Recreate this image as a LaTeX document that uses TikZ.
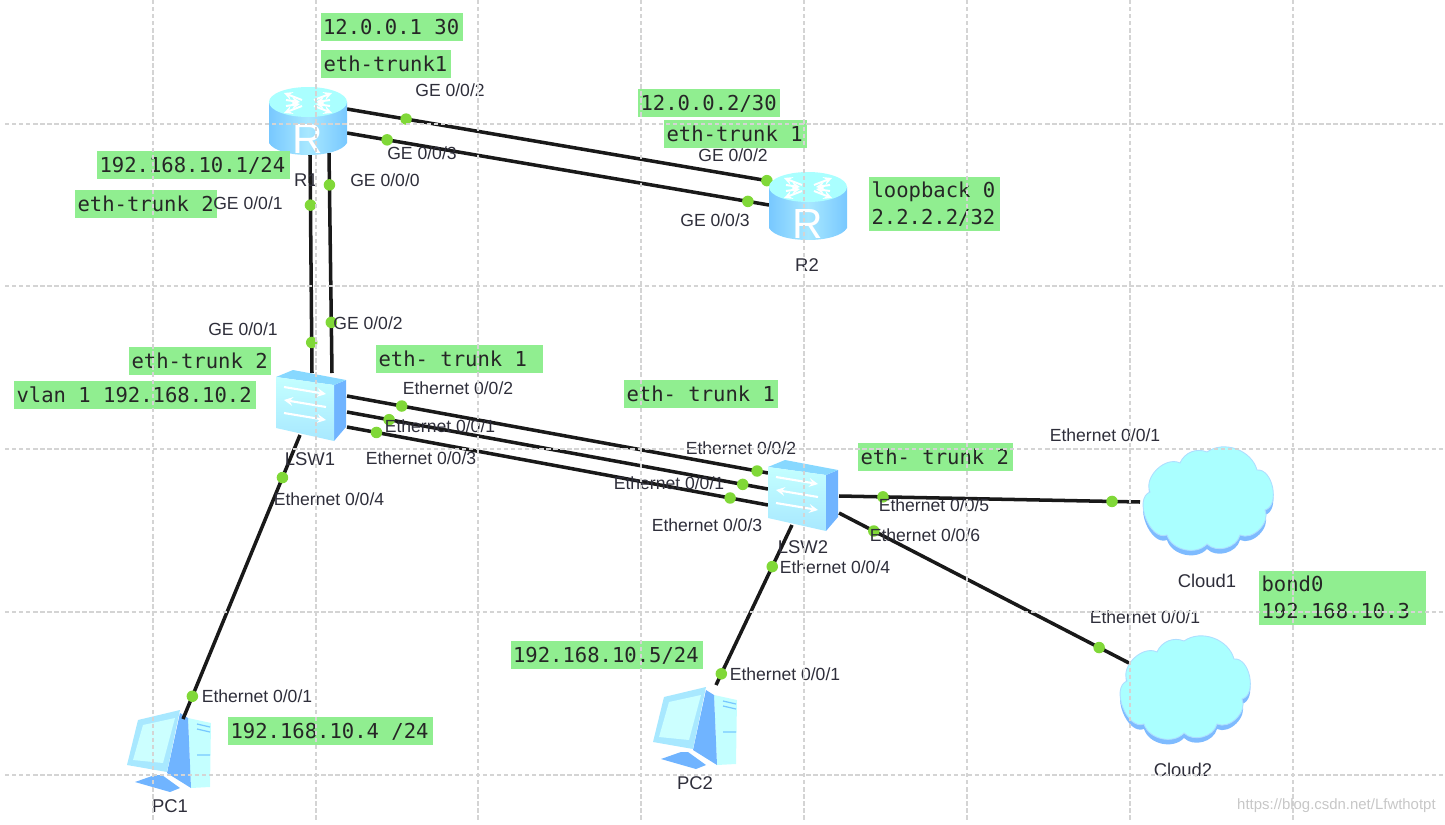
\documentclass[tikz,border=0pt]{standalone}
\usepackage{fontspec}
\setmainfont{Liberation Sans}
\newfontfamily\tagfont{DejaVu Sans Mono}
\usetikzlibrary{calc}
\usetikzlibrary{positioning}
\definecolor{taggreen}{HTML}{90EE90}
\definecolor{portdot}{HTML}{80D838}
\definecolor{gridgray}{HTML}{D4D4D4}
\definecolor{inktext}{HTML}{2E2E3A}
\definecolor{iconlight}{HTML}{AAFFFF}
\definecolor{iconmid}{HTML}{A8E8FF}
\definecolor{iconblue}{HTML}{70B4FF}
\definecolor{iconside}{HTML}{78C8FF}
\tikzset{
    link/.style={line width=2pt,draw=black!90},
    linkdot/.style={circle,fill=portdot,inner sep=0pt,minimum size=0.23cm},
    portlabel/.style={font=\fontsize{10}{12}\selectfont,text=inktext,inner sep=0pt},
    devlabel/.style={font=\fontsize{10.5}{12}\selectfont,text=inktext,inner sep=0pt},
    tagbox/.style={fill=taggreen,text=black!85,font=\tagfont\fontsize{11.7}{15.3}\selectfont,inner xsep=0.05cm,inner ysep=0pt,
        minimum height=0.56cm,align=flush left,text width=#1,text height=9.5pt,text depth=1pt},
    tagtwo/.style={fill=taggreen,text=black!85,font=\tagfont\fontsize{11.7}{15.3}\selectfont,inner xsep=0.05cm,inner ysep=0pt,
        minimum height=1.08cm,align=flush left,text width=#1},
    gridline/.style={draw=gridgray,line width=0.6pt,dash pattern=on 2.5pt off 1.5pt},
    routericon/.pic={
        \path[left color=iconside,right color=iconside,middle color=iconmid]
            (-39,-19) -- (-39,22) .. controls (-30,38) and (30,38) .. (39,22) -- (39,-19) -- cycle;
        \fill[iconlight] (0,-19) circle [x radius=39,y radius=15];
        \foreach \dx/\dy in {1/1,1/-1,-1/1,-1/-1} {
            \draw[white,line width=1.1pt,->,>=stealth] (\dx*6,-18+\dy*3) -- (\dx*24,-18+\dy*10);
            \draw[white,line width=1.1pt,->,>=stealth] (\dx*22,-18+\dy*3) -- (\dx*8,-18+\dy*1);
        }
        \node[white,font=\fontsize{24}{24}\selectfont,inner sep=0pt] (-letter) at (0,18) {R};
    },
    switchicon/.pic={
        \fill[iconblue] (58,15) -- (70,10) -- (70,57) -- (58,71) -- cycle;
        \fill[iconside!70!iconlight] (0,7) -- (17,0) -- (70,10) -- (58,15) -- cycle;
        \path[top color=iconlight!70!white,bottom color=iconmid] (0,7) -- (58,15) -- (58,71) -- (0,58) -- cycle;
        \draw[white,line width=1.2pt,->,>=stealth] (8,17) -- (50,24);
        \draw[white,line width=1.2pt,->,>=stealth] (50,37) -- (8,30);
        \draw[white,line width=1.2pt,->,>=stealth] (8,43) -- (50,50);
    },
    cloudicon/.pic={
        \path[fill=iconblue!90!white] (10,51) to[bend left=70] (40,22) to[bend left=45] (67,11) to[bend left=55] (117,29)
            to[bend left=85] (125,69) to[bend left=70] (100,94) to[bend left=60] (67,103) to[bend left=60] (27,94)
            to[bend left=90] (10,51) -- cycle;
        \path[fill=iconlight,draw=iconside!60!white,line width=0.5pt] (10,46) to[bend left=70] (40,17) to[bend left=45] (67,6) to[bend left=55] (117,24)
            to[bend left=85] (125,64) to[bend left=70] (100,89) to[bend left=60] (67,98) to[bend left=60] (27,89)
            to[bend left=90] (10,46) -- cycle;
    },
    pcicon/.pic={
        \fill[iconlight!70!white] (18,-27) -- (41,-22) -- (40,42) -- (21,43) -- cycle;
        \fill[iconblue] (10,-32) -- (18,-27) -- (21,43) -- (-3,28) -- cycle;
        \fill[iconblue] (-35,37) -- (-15,30) -- (-8,30) -- (10,43) -- (0,47) -- cycle;
        \fill[iconmid] (-32,-25) -- (10,-35) -- (-3,27) -- (-43,20) -- cycle;
        \fill[iconlight!60!white] (-27,-20) -- (5,-27) -- (-7,18) -- (-37,15) -- cycle;
        \draw[iconside,line width=0.7pt] (27,-21) -- (40,-18) (27,-16) -- (40,-13) (27,10) -- (40,10);
    },
}
\begin{document}
\begin{tikzpicture}[x=0.02cm,y=-0.02cm]
    \useasboundingbox (0,0) rectangle (1445,825);
    \coordinate (r1a) at (347,109);
    \coordinate (r1b) at (347,133);
    \coordinate (r1c) at (310,155);
    \coordinate (r1d) at (329,153);
    \coordinate (r2a) at (769,181);
    \coordinate (r2b) at (769,205);
    \coordinate (sw1a) at (312,373);
    \coordinate (sw1b) at (332,373);
    \coordinate (sw1c) at (347,396);
    \coordinate (sw1d) at (347,412);
    \coordinate (sw1e) at (347,427);
    \coordinate (sw1f) at (300,435);
    \coordinate (sw2a) at (768,473);
    \coordinate (sw2b) at (768,489);
    \coordinate (sw2c) at (768,505);
    \coordinate (sw2d) at (792,525);
    \coordinate (sw2e) at (839,496);
    \coordinate (sw2f) at (839,513);
    \coordinate (pc1a) at (183,719);
    \coordinate (pc2a) at (716,685);
    \coordinate (cl1a) at (1140,502);
    \coordinate (cl2a) at (1129,663);

    \pic (pc1) at (170,745) {pcicon};
    \pic (pc2) at (696,722) {pcicon};
    \pic (cl1) at (1140,446) {cloudicon};
    \pic (cl2) at (1117,635) {cloudicon};

    \draw[link] (r1a) -- node[linkdot,pos=0.14] (d1) {} node[linkdot,pos=0.995] (d2) {} (r2a);
    \draw[link] (r1b) -- node[linkdot,pos=0.095] (d3) {} node[linkdot,pos=0.95] (d4) {} (r2b);
    \draw[link] (r1c) -- node[linkdot,pos=0.23] (d5) {} node[linkdot,pos=0.86] (d6) {} (sw1a);
    \draw[link] (r1d) -- node[linkdot,pos=0.145] (d7) {} node[linkdot,pos=0.77] (d8) {} (sw1b);
    \draw[link] (sw1c) -- node[linkdot,pos=0.13] (d9) {} node[linkdot,pos=0.974] (d10) {} (sw2a);
    \draw[link] (sw1d) -- node[linkdot,pos=0.10] (d11) {} node[linkdot,pos=0.94] (d12) {} (sw2b);
    \draw[link] (sw1e) -- node[linkdot,pos=0.07] (d13) {} node[linkdot,pos=0.91] (d14) {} (sw2c);
    \draw[link] (sw1f) -- node[linkdot,pos=0.15] (d15) {} node[linkdot,pos=0.92] (d16) {} (pc1a);
    \draw[link] (sw2d) -- node[linkdot,pos=0.26] (d17) {} node[linkdot,pos=0.93] (d18) {} (pc2a);
    \draw[link] (sw2e) -- node[linkdot,pos=0.146] (d19) {} node[linkdot,pos=0.907] (d20) {} (cl1a);
    \draw[link] (sw2f) -- node[linkdot,pos=0.12] (d21) {} node[linkdot,pos=0.897] (d22) {} (cl2a);

    \pic (r1) at (308,121) {routericon};
    \pic (r2) at (808,206) {routericon};
    \pic (lsw1) at (276,370) {switchicon};
    \pic (lsw2) at (768,460) {switchicon};

    \node[tagbox=2.76cm] (t1) at (392,27) {12.0.0.1 30};
    \node[tagbox=2.5cm] (t2) at (386,64) {eth-trunk1};
    \node[tagbox=3.76cm] (t3) at (193.5,165) {192.168.10.1/24};
    \node[tagbox=2.74cm] (t4) at (146,204) {eth-trunk 2};
    \node[tagbox=2.74cm] (t5) at (709,103) {12.0.0.2/30};
    \node[tagbox=2.76cm] (t6) at (735.5,134) {eth-trunk 1};
    \node[tagtwo=2.52cm] (t7) at (934.5,204) {loopback 0\\2.2.2.2/32};
    \node[tagbox=2.74cm] (t8) at (200,361) {eth-trunk 2};
    \node[tagbox=4.74cm] (t9) at (135,395) {vlan 1 192.168.10.2};
    \node[tagbox=3.24cm] (t10) at (459.5,359) {eth- trunk 1};
    \node[tagbox=2.98cm] (t11) at (701,394) {eth- trunk 1};
    \node[tagbox=3cm] (t12) at (935.5,457) {eth- trunk 2};
    \node[tagtwo=3.24cm] (t13) at (1342.5,597.5) {bond0\\192.168.10.3};
    \node[tagbox=4cm] (t14) at (330.5,731) {192.168.10.4 /24};
    \node[tagbox=3.76cm] (t15) at (607,655) {192.168.10.5/24};

    \node[portlabel] (p1) at (450,90) {GE 0/0/2};
    \node[portlabel] (p2) at (422,153) {GE 0/0/3};
    \node[portlabel] (p3) at (385,180) {GE 0/0/0};
    \node[portlabel] (p4) at (248,203) {GE 0/0/1};
    \node[portlabel] (p5) at (243,329) {GE 0/0/1};
    \node[portlabel] (p6) at (368,323) {GE 0/0/2};
    \node[portlabel] (p7) at (733,155) {GE 0/0/2};
    \node[portlabel] (p8) at (715,220) {GE 0/0/3};
    \node[portlabel] (p9) at (458,388) {Ethernet 0/0/2};
    \node[portlabel] (p10) at (440,426) {Ethernet 0/0/1};
    \node[portlabel] (p11) at (421,458) {Ethernet 0/0/3};
    \node[portlabel] (p12) at (329,499) {Ethernet 0/0/4};
    \node[portlabel] (p13) at (741,448) {Ethernet 0/0/2};
    \node[portlabel] (p14) at (669,483) {Ethernet 0/0/1};
    \node[portlabel] (p15) at (707,525) {Ethernet 0/0/3};
    \node[portlabel] (p16) at (835,567) {Ethernet 0/0/4};
    \node[portlabel] (p17) at (934,505) {Ethernet 0/0/5};
    \node[portlabel] (p18) at (925,535) {Ethernet 0/0/6};
    \node[portlabel] (p19) at (1105,435) {Ethernet 0/0/1};
    \node[portlabel] (p20) at (1145,617) {Ethernet 0/0/1};
    \node[portlabel] (p21) at (257,696) {Ethernet 0/0/1};
    \node[portlabel] (p22) at (785,674) {Ethernet 0/0/1};

    \node[devlabel] (lr1) at (306,180) {R1};
    \node[devlabel] (lr2) at (807,265) {R2};
    \node[devlabel] (ls1) at (310,459) {LSW1};
    \node[devlabel] (ls2) at (803,547) {LSW2};
    \node[devlabel] (lc1) at (1207,581) {Cloud1};
    \node[devlabel] (lc2) at (1183,770) {Cloud2};
    \node[devlabel] (lp1) at (170,806) {PC1};
    \node[devlabel] (lp2) at (695,783) {PC2};

    \foreach \gx in {153,316,478,641,804,967,1130,1293}
        \draw[gridline] (\gx,0) -- (\gx,820);
    \foreach \gy in {124,286,449,612,775}
        \draw[gridline] (5,\gy) -- (1445,\gy);

    \node[text=black!22,font=\fontsize{8.5}{10}\selectfont,inner sep=0pt,anchor=east] (mark) at (1436,806) {https://blog.csdn.net/Lfwthotpt};
\end{tikzpicture}
\end{document}
